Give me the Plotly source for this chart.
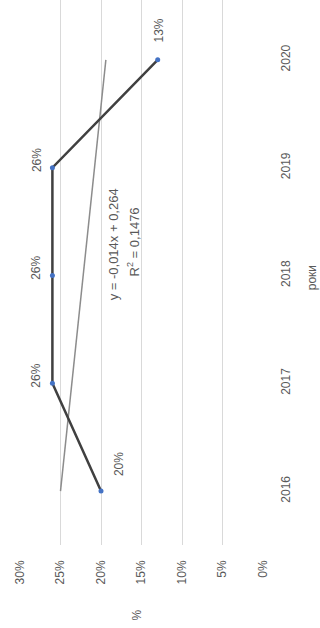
import plotly.graph_objects as go

# Share by year
years = ["2016", "2017", "2018", "2019", "2020"]
shares = [0.20, 0.26, 0.26, 0.26, 0.13]
share_labels = ["20%", "26%", "26%", "26%", "13%"]

# Linear trend (x = 1..5)
trend_slope = -0.014
trend_intercept = 0.264
trend_r2 = 0.1476
trend_text = "y = -0,014x + 0,264"
r2_text = "R<sup>2</sup> = 0,1476"

value_ticks = [0, 0.05, 0.10, 0.15, 0.20, 0.25, 0.30]
value_tick_text = ["0%", "5%", "10%", "15%", "20%", "25%", "30%"]
value_title = "%"
year_title = "роки"

trend_values = [trend_intercept + trend_slope * (i + 1) for i in range(len(years))]

FONT = "Liberation Sans, Arial, sans-serif"
GREY_TEXT = "#595959"

fig = go.Figure()

fig.add_trace(go.Scatter(
    x=trend_values, y=years, mode="lines",
    line=dict(color="#8c8c8c", width=1.5),
    hoverinfo="skip", showlegend=False,
))
fig.add_trace(go.Scatter(
    x=shares, y=years, mode="lines+markers",
    line=dict(color="#404040", width=2.5),
    marker=dict(color="#4472C4", size=5),
    showlegend=False,
))

# data labels, rotated with the chart (category axis -> position index)
offsets = [(18, 27), (-16, 8), (-16, 8), (-16, 8), (1, 29)]
for i, (v, lab, (dx, dy)) in enumerate(zip(shares, share_labels, offsets)):
    fig.add_annotation(
        x=v, y=i, text=lab, showarrow=False, textangle=-90,
        xshift=dx, yshift=dy,
        font=dict(family=FONT, size=12, color=GREY_TEXT),
    )

# trend equation
fig.add_annotation(x=0.185, y=2.29, text=trend_text, showarrow=False, textangle=-90,
                   font=dict(family=FONT, size=13, color=GREY_TEXT))
fig.add_annotation(x=0.160, y=2.31, text=r2_text, showarrow=False, textangle=-90,
                   font=dict(family=FONT, size=13, color=GREY_TEXT))

# axis titles
fig.add_annotation(xref="paper", yref="paper", x=0.48, y=-0.142, text=value_title,
                   showarrow=False, textangle=-90,
                   font=dict(family=FONT, size=12, color=GREY_TEXT))
fig.add_annotation(xref="paper", yref="paper", x=1.24, y=0.49, text=year_title,
                   showarrow=False, textangle=-90,
                   font=dict(family=FONT, size=12, color=GREY_TEXT))

fig.update_layout(
    width=320, height=628,
    margin=dict(l=20, r=57, t=0, b=83),
    paper_bgcolor="white", plot_bgcolor="white",
    font=dict(family=FONT, size=12, color=GREY_TEXT),
    xaxis=dict(
        range=[0.30, 0.0], tickvals=value_ticks, ticktext=value_tick_text,
        tickangle=-90, showgrid=True, gridcolor="#d9d9d9", gridwidth=1,
        zeroline=False, showline=False, ticklabelstandoff=12,
        tickfont=dict(family=FONT, size=12, color=GREY_TEXT),
    ),
    yaxis=dict(
        type="category", categoryorder="array", categoryarray=years,
        range=[-0.5, 4.555], side="right", tickangle=-90,
        showgrid=False, zeroline=False, showline=False, ticklabelstandoff=14,
        tickfont=dict(family=FONT, size=12, color=GREY_TEXT),
    ),
)

fig.write_html("out.html")
